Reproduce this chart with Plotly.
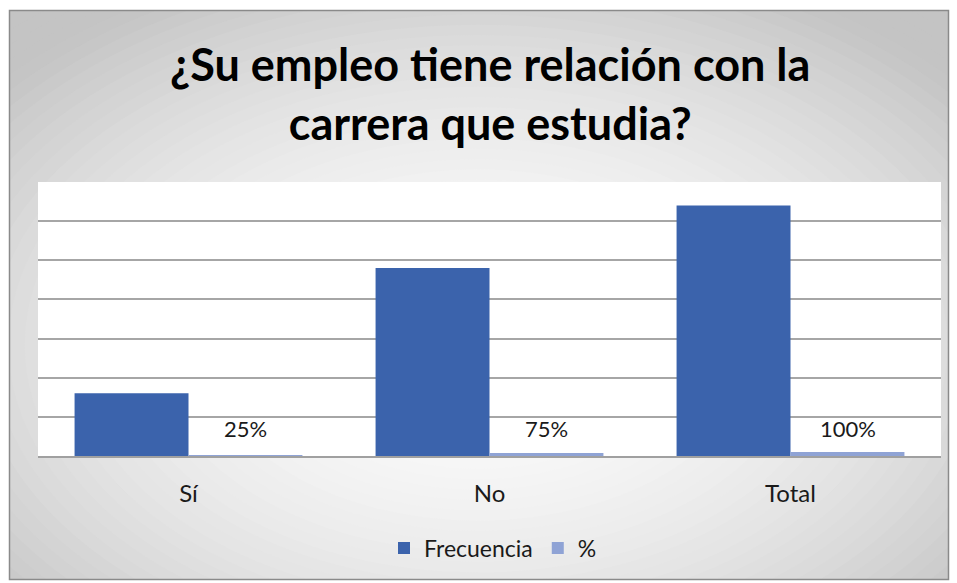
import plotly.graph_objects as go

categories = ["Sí", "No", "Total"]
frecuencia = [16, 48, 64]
porcentaje = [0.25, 0.75, 1.0]
porcentaje_labels = ["25%", "75%", "100%"]
title_text = "¿Su empleo tiene relación con la<br>carrera que estudia?"

W, H = 957, 583
L, R, T, B = 38, 941, 182, 456
pw, ph = R - L, B - T

def px(x):
    return (x - L) / pw

def py(y):
    return (B - y) / ph

# outer chart frame (pixels)
FX0, FX1, FY0, FY1 = 9, 949, 10, 580

fig = go.Figure()
fig.add_trace(go.Bar(name="Frecuencia", x=categories, y=frecuencia,
                     marker=dict(color="#3B63AC", line=dict(width=0))))
fig.add_trace(go.Bar(name="%", x=categories, y=porcentaje,
                     marker=dict(color="#8FA3D5", line=dict(width=0))))

shapes = []
# radial gradient background
cx, cy = 478, 345
RX, RY = 470, 300
n = 45
smax = 1.55
for i in range(n):
    s = smax * (1 - i / n)
    c = 251 - 55 * min(s / 1.35, 1.0) ** 2
    g = int(round(c))
    shapes.append(dict(type="circle", xref="paper", yref="paper",
                       x0=px(cx - RX * s), x1=px(cx + RX * s),
                       y0=py(cy + RY * s), y1=py(cy - RY * s),
                       fillcolor=f"rgb({g},{g},{g})", line=dict(width=0), layer="below"))
# white outside frame (mask)
for (x0, x1, y0, y1) in [(-400, FX0, -400, H + 400), (FX1, W + 400, -400, H + 400),
                         (-400, W + 400, -400, FY0), (-400, W + 400, FY1, H + 400)]:
    shapes.append(dict(type="rect", xref="paper", yref="paper",
                       x0=px(x0), x1=px(x1), y0=py(y1), y1=py(y0),
                       fillcolor="white", line=dict(width=0), layer="below"))
# white plot area
shapes.append(dict(type="rect", xref="paper", yref="paper", x0=0, x1=1, y0=0, y1=1,
                   fillcolor="white", line=dict(width=0), layer="below"))
# outer border
shapes.append(dict(type="rect", xref="paper", yref="paper",
                   x0=px(FX0 + 0.5), x1=px(FX1 - 0.5), y0=py(FY1 - 0.5), y1=py(FY0 + 0.5),
                   fillcolor="rgba(0,0,0,0)", line=dict(width=1.5, color="#8a8a8a"), layer="above"))

annotations = [dict(text="<b>" + title_text + "</b>", xref="paper", yref="paper",
                    x=px(490), y=py(94), xanchor="center", yanchor="middle",
                    showarrow=False, font=dict(size=45, color="#000000"))]
for cat, lab in zip(categories, porcentaje_labels):
    annotations.append(dict(text=lab, x=cat, y=0, xref="x", yref="y",
                            xanchor="center", yanchor="bottom", showarrow=False,
                            xshift=57, yshift=12,
                            font=dict(size=22, color="#1a1a1a")))

fig.update_layout(
    width=W, height=H,
    margin=dict(l=L, r=W - R, t=T, b=H - B, pad=0),
    paper_bgcolor="white",
    plot_bgcolor="rgba(0,0,0,0)",
    font=dict(family="Lato, Noto Sans, sans-serif", color="#1a1a1a"),
    barmode="group", bargap=0.243, bargroupgap=0,
    shapes=shapes,
    showlegend=True,
    legend=dict(orientation="h", x=px(493), xanchor="center", y=py(548), yanchor="middle",
                font=dict(size=23, color="#1a1a1a"), bgcolor="rgba(0,0,0,0)",
                itemwidth=30, traceorder="normal"),
    annotations=annotations,
)
fig.update_xaxes(showgrid=False, showline=True, linecolor="#a0a0a0", linewidth=1.5,
                 ticks="", tickfont=dict(size=24, color="#1a1a1a"),
                 ticklabelstandoff=15, fixedrange=True)
fig.update_yaxes(range=[0, 70], dtick=10, showgrid=True, gridcolor="#a6a6a6",
                 gridwidth=1.5, showticklabels=False, zeroline=False, showline=False,
                 fixedrange=True)

fig.write_html("out.html", config={"displayModeBar": False},
               post_script="document.body.style.margin='0';")
